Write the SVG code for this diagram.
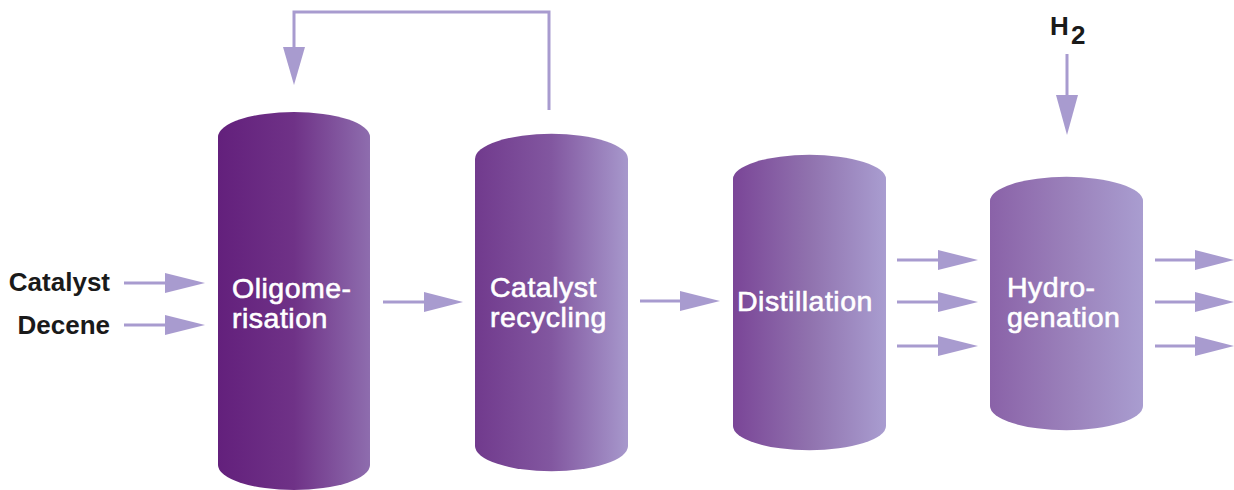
<svg xmlns="http://www.w3.org/2000/svg" width="1234" height="490" viewBox="0 0 1234 490">
  <style>
    .shaft { stroke: #a89bcf; stroke-width: 3; fill: none; }
    .head { fill: #a89bcf; }
    .vesselLabel { font-family: "Liberation Sans", Arial, sans-serif; font-size: 28.5px; letter-spacing: 0.5px; fill: #ffffff; stroke: #ffffff; stroke-width: 0.6; }
    .feedLabel { font-family: "Liberation Sans", Arial, sans-serif; font-size: 26px; font-weight: bold; fill: #1a1a1a; }
  </style>
  <defs>
    <linearGradient id="g1" x1="0" y1="0" x2="1" y2="0">
      <stop offset="0" stop-color="#63207c"/>
      <stop offset="0.5" stop-color="#6f3287"/>
      <stop offset="1" stop-color="#8e6dae"/>
    </linearGradient>
    <linearGradient id="g2" x1="0" y1="0" x2="1" y2="0">
      <stop offset="0" stop-color="#713a8d"/>
      <stop offset="0.5" stop-color="#8257a0"/>
      <stop offset="1" stop-color="#a798cc"/>
    </linearGradient>
    <linearGradient id="g3" x1="0" y1="0" x2="1" y2="0">
      <stop offset="0" stop-color="#7a4597"/>
      <stop offset="0.5" stop-color="#9072ae"/>
      <stop offset="1" stop-color="#a99dd0"/>
    </linearGradient>
    <linearGradient id="g4" x1="0" y1="0" x2="1" y2="0">
      <stop offset="0" stop-color="#8a62a8"/>
      <stop offset="0.5" stop-color="#9a80ba"/>
      <stop offset="1" stop-color="#a99dd0"/>
    </linearGradient>
  </defs>

  <!-- connectors -->
  <g id="connectors">
    <!-- feeds into oligomerisation -->
    <line class="shaft" x1="124" y1="283" x2="168" y2="283"/>
    <polygon class="head" points="165,273 205,283 165,293"/>
    <line class="shaft" x1="124" y1="325" x2="168" y2="325"/>
    <polygon class="head" points="165,315 205,325 165,335"/>
    <!-- oligomerisation to catalyst recycling -->
    <line class="shaft" x1="383" y1="302" x2="427" y2="302"/>
    <polygon class="head" points="424,292 463,302 424,312"/>
    <!-- catalyst recycling to distillation -->
    <line class="shaft" x1="640" y1="301" x2="683" y2="301"/>
    <polygon class="head" points="680,291 720,301 680,311"/>
    <!-- distillation outputs -->
    <line class="shaft" x1="897" y1="260" x2="941" y2="260"/>
    <polygon class="head" points="938,250 978,260 938,270"/>
    <line class="shaft" x1="897" y1="302" x2="941" y2="302"/>
    <polygon class="head" points="938,292 978,302 938,312"/>
    <line class="shaft" x1="897" y1="346" x2="941" y2="346"/>
    <polygon class="head" points="938,336 978,346 938,356"/>
    <!-- hydrogenation outputs -->
    <line class="shaft" x1="1155" y1="260" x2="1198" y2="260"/>
    <polygon class="head" points="1195,250 1234,260 1195,270"/>
    <line class="shaft" x1="1155" y1="302" x2="1198" y2="302"/>
    <polygon class="head" points="1195,292 1234,302 1195,312"/>
    <line class="shaft" x1="1155" y1="346" x2="1198" y2="346"/>
    <polygon class="head" points="1195,336 1234,346 1195,356"/>
    <!-- hydrogen feed -->
    <line class="shaft" x1="1067" y1="54" x2="1067" y2="98"/>
    <polygon class="head" points="1056,95 1078,95 1067,135"/>
    <!-- catalyst return loop -->
    <polyline class="shaft" points="549,110 549,12 294,12 294,50"/>
    <polygon class="head" points="283,47 305,47 294,85"/>
  </g>

  <!-- feed labels -->
  <g id="feed-catalyst">
    <text class="feedLabel" x="110" y="291" text-anchor="end">Catalyst</text>
  </g>
  <g id="feed-decene">
    <text class="feedLabel" x="110" y="334" text-anchor="end">Decene</text>
  </g>
  <g id="feed-hydrogen">
    <text class="feedLabel" x="1050" y="35" font-size="28">H</text>
    <text class="feedLabel" x="1071" y="44" font-size="17">2</text>
  </g>

  <!-- vessels -->
  <g id="oligomerisation">
    <path fill="url(#g1)" d="M218,137 A76,25 0 0 1 370,137 L370,465 A76,25 0 0 1 218,465 Z"/>
    <text class="vesselLabel" x="232" y="298">Oligome-</text>
    <text class="vesselLabel" x="232" y="328">risation</text>
  </g>
  <g id="catalyst-recycling">
    <path fill="url(#g2)" d="M475,159 A76,25 0 0 1 628,159 L628,446 A76,25 0 0 1 475,446 Z"/>
    <text class="vesselLabel" x="490" y="297">Catalyst</text>
    <text class="vesselLabel" x="490" y="327">recycling</text>
  </g>
  <g id="distillation">
    <path fill="url(#g3)" d="M733,179 A76,24 0 0 1 886,179 L886,426 A76,24 0 0 1 733,426 Z"/>
    <text class="vesselLabel" x="737" y="311">Distillation</text>
  </g>
  <g id="hydrogenation">
    <path fill="url(#g4)" d="M990,201 A76,24 0 0 1 1143,201 L1143,406 A76,24 0 0 1 990,406 Z"/>
    <text class="vesselLabel" x="1007" y="297">Hydro-</text>
    <text class="vesselLabel" x="1007" y="327">genation</text>
  </g>
</svg>
